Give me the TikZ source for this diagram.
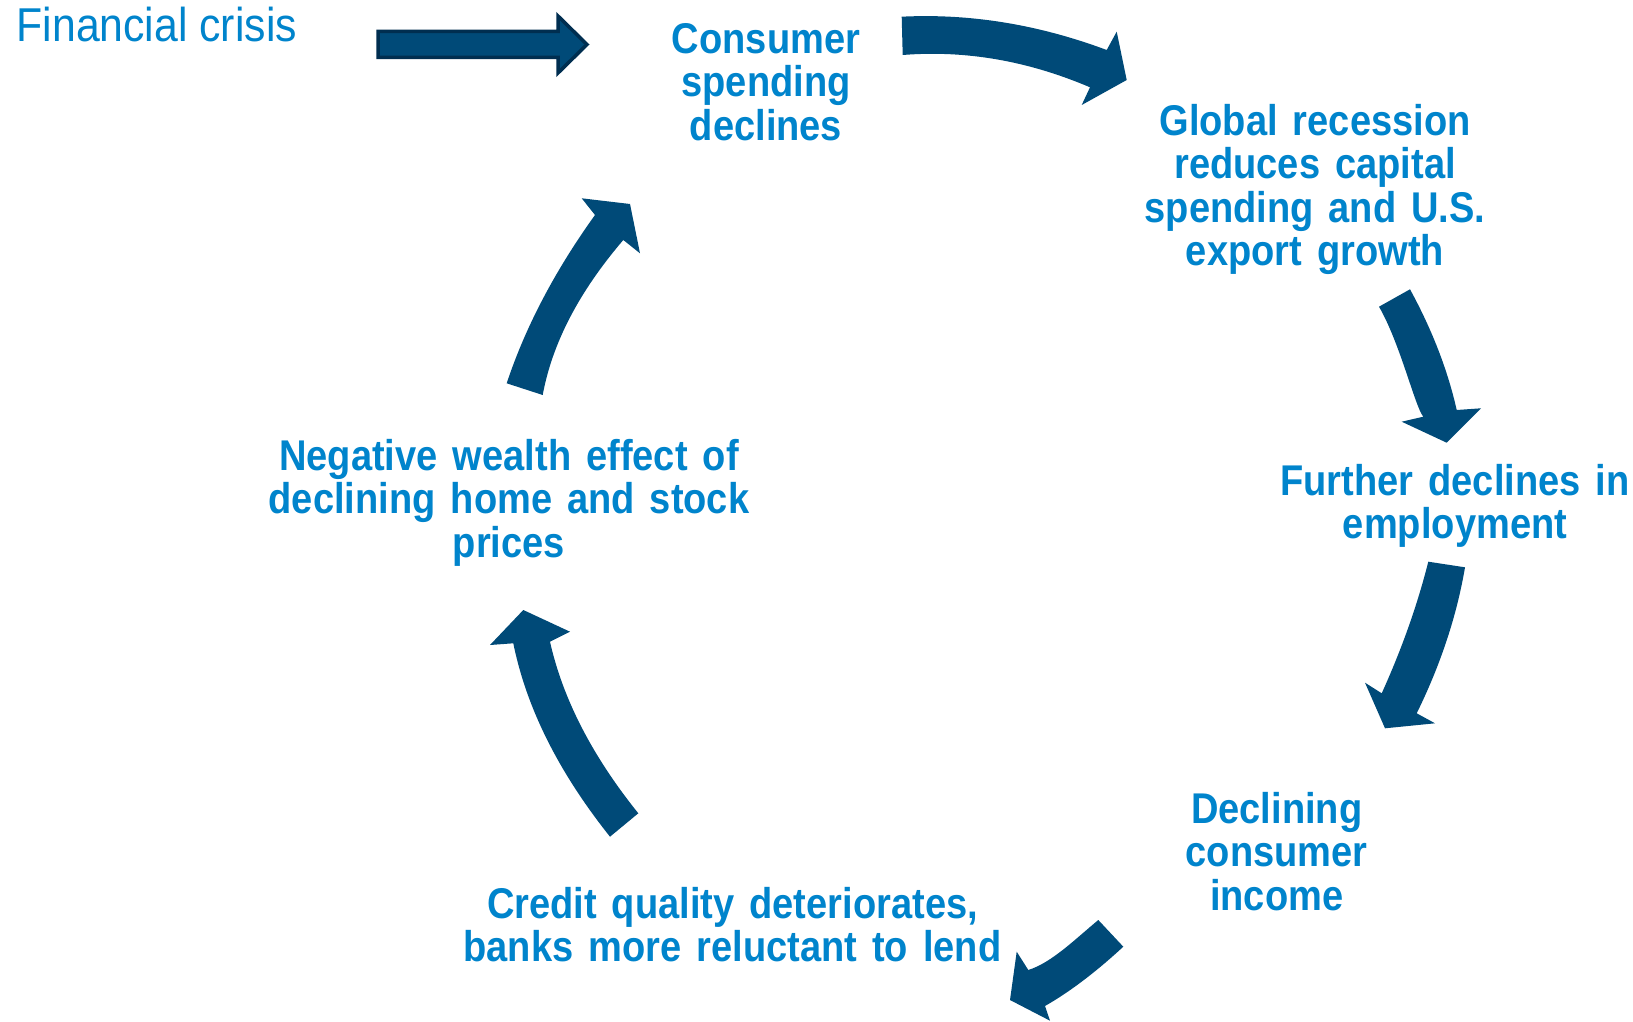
\documentclass[tikz,border=0pt]{standalone}
\usepackage{fontspec}
\setmainfont{Liberation Sans}
\newfontfamily\cyclefont[FakeStretch=0.885]{Liberation Sans}
\newfontfamily\leadfont[FakeStretch=0.9]{Liberation Sans}
\definecolor{txtblue}{RGB}{0,132,204}
\definecolor{arrowblue}{RGB}{0,74,120}
\definecolor{arrowedge}{RGB}{0,46,80}
\newcommand{\wordgap}{\spaceskip=15pt\relax}
\tikzset{
  cyc/.style={text=txtblue, align=center, inner sep=0pt, anchor=base,
    font=\cyclefont\bfseries\fontsize{43}{43.5}\selectfont,
    execute at begin node=\wordgap},
  lead/.style={text=txtblue, inner sep=0pt, anchor=base west,
    font=\leadfont\fontsize{47.5}{50}\selectfont},
  blockarrow/.style={fill=arrowblue, draw=none},
  straightarrow/.style={fill=arrowblue, draw=arrowedge, line width=3.5pt, line join=miter}
}
\begin{document}
\begin{tikzpicture}[x=1pt,y=-1pt]
\useasboundingbox[fill=white] (0,0) rectangle (1633,1022);

% texts (anchor = baseline of the last line)
\node[lead] (crisis) at (16.5,42) {Financial crisis};
\node[cyc] (consumer) at (766,140.3) {Consumer\\spending\\declines};
\node[cyc] (global) at (1315,265.5) {Global recession\\reduces capital\\spending and U.S.\\export growth};
\node[cyc] (employ) at (1455,538.5) {Further declines in\\employment};
\node[cyc] (income) at (1276.7,910.3) {Declining\\consumer\\income};
\node[cyc] (credit) at (732.5,961.5) {Credit quality deteriorates,\\banks more reluctant to lend};
\node[cyc] (wealth) at (509,557) {Negative wealth effect of\\declining home and stock\\prices};

% straight arrow: financial crisis -> consumer spending
\draw[straightarrow] (378,31.5) -- (558,31.5) -- (558,16) -- (587,44.5) -- (558,73) -- (558,57.5) -- (378,57.5) -- cycle;

% top arrow
\fill[blockarrow] (901.7,16.7) .. controls (969.8,13.3) and (1038.1,24.4) .. (1106.7,50)
  -- (1116.7,31.7) -- (1126.7,80) -- (1081.7,105) -- (1090,87.3)
  .. controls (1027.6,60.7) and (965.2,50.0) .. (902.7,55) -- cycle;

% right upper arrow
\fill[blockarrow] (1410,289.3) .. controls (1432.2,330.0) and (1447.7,370.2) .. (1456.7,410)
  -- (1481,408.3) -- (1446.7,442.7) -- (1401.7,421.7) -- (1423.3,416.7)
  .. controls (1415,406.7) and (1400.2,343.4) .. (1379,306.7) -- cycle;

% right lower arrow
\fill[blockarrow] (1465,567.3) .. controls (1456.7,616.0) and (1440.6,664.6) .. (1416.7,713.3)
  -- (1435,723.3) -- (1385,728.3) -- (1365,682.7) -- (1381.7,693.3)
  .. controls (1401.6,649.4) and (1417.2,605.6) .. (1428.3,561.7) -- cycle;

% bottom arrow
\fill[blockarrow] (1098.3,920) .. controls (1075,939.3) and (1051.6,962.7) .. (1028.3,970)
  -- (1016.7,951.7) -- (1010,1000) -- (1050,1020.7) -- (1045,1006)
  .. controls (1071.1,991.1) and (1097.3,970.7) .. (1123.3,946.7) -- cycle;

% left lower arrow
\fill[blockarrow] (638.3,813.3) .. controls (592.3,756.1) and (562.8,698.9) .. (550,641.7)
  -- (570,631.7) -- (523.3,610) -- (490,645) -- (513.3,643.3)
  .. controls (526.4,707.8) and (558.6,772.2) .. (610,836.7) -- cycle;

% left upper arrow
\fill[blockarrow] (542.7,395) .. controls (552.2,343.3) and (579,291.7) .. (623.3,240)
  -- (640,253.3) -- (630,204) -- (581.7,198.3) -- (595,215)
  .. controls (554.7,271.1) and (525.3,327.2) .. (506.7,383.3) -- cycle;
\end{tikzpicture}
\end{document}
